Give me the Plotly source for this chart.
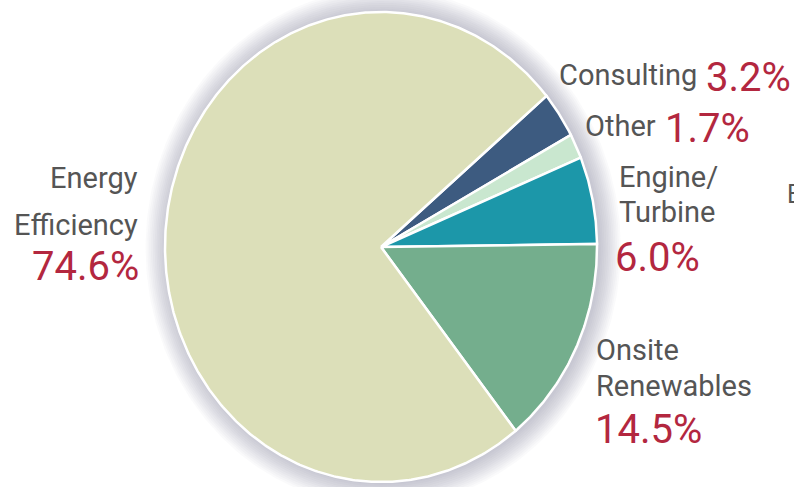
import numpy as np
import plotly.graph_objects as go

# Market segments and their shares (%)
segments = ["Consulting", "Other", "Engine/Turbine", "Onsite Renewables", "Energy Efficiency"]
shares = [3.2, 1.7, 6.0, 14.5, 74.6]
name_lines = [["Consulting"], ["Other"], ["Engine/", "Turbine"], ["Onsite", "Renewables"], ["Energy", "Efficiency"]]
pct_labels = [f"{v:.1f}%" for v in shares]

slice_colors = ["#3d5b80", "#c9e7cf", "#1c97a9", "#74ae8d", "#dcdfb9"]

W, H = 794, 487
CX, CY = 381, 247          # pie centre in pixels
RX, RY = 216, 235          # pie radii in pixels (slightly tall oval)
START_DEG = 40.0           # first slice edge, degrees counter-clockwise from 3 o'clock

fig = go.Figure()

# soft drop shadow: stacked translucent ovals behind the pie
t = np.linspace(0, 2 * np.pi, 361)
for s in np.linspace(1.10, 1.008, 12):
    fig.add_trace(go.Scatter(
        x=s * np.cos(t) + 0.01, y=s * np.sin(t) - 0.003,
        mode="lines", fill="toself", line=dict(width=0),
        fillcolor="rgba(100,100,112,0.03)", hoverinfo="skip", showlegend=False))

# wedges, clockwise from START_DEG
edge = START_DEG
for name, v, col in zip(segments, shares, slice_colors):
    sweep = v / sum(shares) * 360.0
    a = np.radians(np.linspace(edge, edge - sweep, max(int(sweep * 2), 4)))
    xs = np.concatenate([[0], np.cos(a), [0]])
    ys = np.concatenate([[0], np.sin(a), [0]])
    fig.add_trace(go.Scatter(
        x=xs, y=ys, mode="lines", fill="toself", fillcolor=col,
        line=dict(color="white", width=2.5), name=name,
        hovertemplate=f"{name}: {v:.1f}%<extra></extra>", showlegend=False))
    edge -= sweep

# label layout: (x, y, anchor) for each name line, then the percentage
name_pos = [
    [(698, 75, "right")],
    [(657, 126, "right")],
    [(618, 177, "left"), (618, 212, "left")],
    [(595, 350, "left"), (595, 386, "left")],
    [(139, 178, "right"), (139, 225, "right")],
]
pct_pos = [(705, 77, "left"), (664, 128, "left"), (614, 257, "left"),
           (594, 429, "left"), (140, 266, "right")]

FONT = "Roboto, Liberation Sans, sans-serif"
GRAY, RED = "#555555", "#b3273f"

annotations = []
for lines, poss, pct, pp in zip(name_lines, name_pos, pct_labels, pct_pos):
    for txt, (px, py, anc) in zip(lines, poss):
        annotations.append(dict(
            x=px / W, y=1 - py / H, xref="paper", yref="paper", text=txt,
            xanchor=anc, yanchor="middle", showarrow=False, borderpad=0,
            font=dict(family=FONT, size=29, color=GRAY)))
    px, py, anc = pp
    annotations.append(dict(
        x=px / W, y=1 - py / H, xref="paper", yref="paper", text=pct,
        xanchor=anc, yanchor="middle", showarrow=False, borderpad=0,
        font=dict(family=FONT, size=40, color=RED)))

# clipped label of a neighbouring panel at the right edge
annotations.append(dict(
    x=786 / W, y=1 - 194 / H, xref="paper", yref="paper", text="E",
    xanchor="left", yanchor="middle", showarrow=False, borderpad=0,
    font=dict(family=FONT, size=25, color=GRAY)))

fig.update_layout(
    width=W, height=H,
    margin=dict(l=0, r=0, t=0, b=0),
    paper_bgcolor="white", plot_bgcolor="white",
    xaxis=dict(range=[-CX / RX, (W - CX) / RX], visible=False, fixedrange=True),
    yaxis=dict(range=[-(H - CY) / RY, CY / RY], visible=False, fixedrange=True),
    annotations=annotations,
    showlegend=False,
)

fig.write_html("out.html")
